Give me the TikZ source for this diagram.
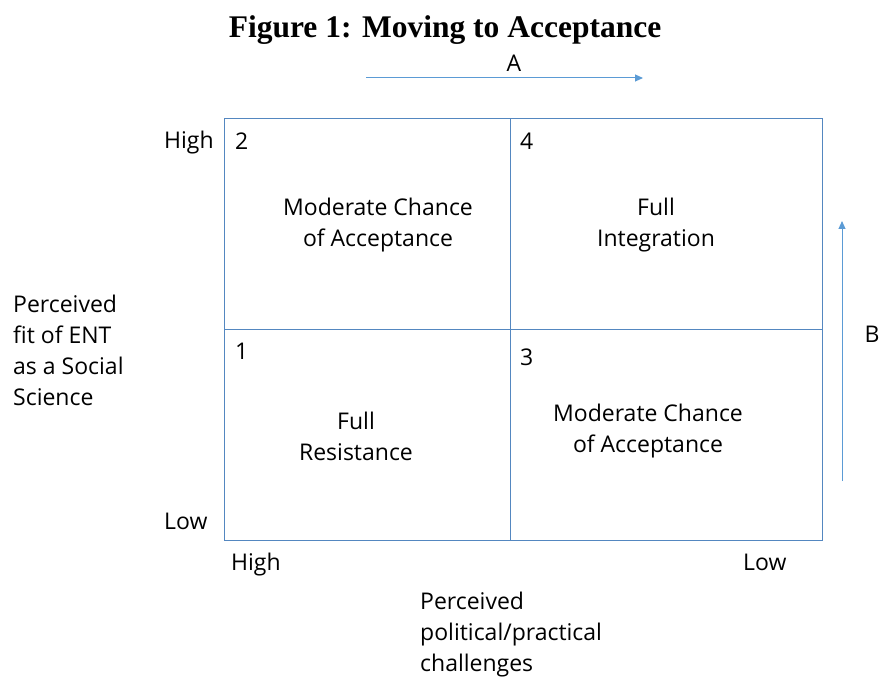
\documentclass[tikz,border=0pt]{standalone}
\usepackage{fontspec}
\setmainfont{Open Sans}
\newfontfamily\titlefont{Liberation Serif}
\usetikzlibrary{arrows.meta,positioning}
\definecolor{gridblue}{RGB}{84,135,192}
\definecolor{arrowblue}{RGB}{91,155,213}

\begin{document}
\begin{tikzpicture}[
  x=1pt, y=-1pt,
  font=\fontsize{23}{31}\selectfont,
  >={Triangle[length=8pt, width=7pt]},
  cell/.style={draw=gridblue, line width=1pt},
  tag/.style={inner sep=0pt, yshift=-2.5pt},
  num/.style={tag, anchor=north west},
  txt/.style={tag, align=center},
  axis/.style={tag, align=left},
  move/.style={->, draw=arrowblue, line width=1pt},
]
\useasboundingbox (0,0) rectangle (881,679);

% title
\node[tag] (title) at (445,28) {\titlefont\bfseries\fontsize{31.5}{34}\selectfont Figure 1: Moving to Acceptance};

% the four cells
\coordinate (tl) at (224,119);
\coordinate (br) at (822,540);
\coordinate (mt) at (510,119);
\coordinate (mb) at (510,540);
\coordinate (ml) at (224,329);
\coordinate (mr) at (822,329);
\draw[cell] (tl) rectangle (br);
\draw[cell] (mt) -- (mb);
\draw[cell] (ml) -- (mr);

\node[num] (n2) at (235,130) {2};
\node[num] (n4) at (520,130) {4};
\node[num] (n1) at (235,340) {1};
\node[num] (n3) at (520,346) {3};

\node[txt] (modA) at (378,223) {Moderate Chance\\of Acceptance};
\node[txt] (full) at (656,223) {Full\\Integration};
\node[txt] (resist) at (356,434) {Full\\Resistance};
\node[txt] (modB) at (648,429) {Moderate Chance\\of Acceptance};

% axis labels
\node[tag, anchor=west] (yhigh) at (164,140) {High};
\node[tag, anchor=west] (ylow) at (164,519) {Low};
\node[tag, anchor=west] (xhigh) at (231,562) {High};
\node[tag, anchor=west] (xlow) at (743,560) {Low};

\node[axis, anchor=west] (fit) at (13,348) {Perceived\\fit of ENT\\as a Social\\Science};
\node[axis, anchor=north west] (chal) at (420,589) {Perceived\\political/practical\\challenges};

% direction arrows
\coordinate (a0) at (366,78);
\coordinate (a1) at (643,78);
\draw[move] (a0) -- (a1);
\node[tag] (lblA) at (514,61) {A};

\coordinate (b0) at (842,481);
\coordinate (b1) at (842,221);
\draw[move] (b0) -- (b1);
\node[tag] (lblB) at (872,332) {B};

\end{tikzpicture}
\end{document}
